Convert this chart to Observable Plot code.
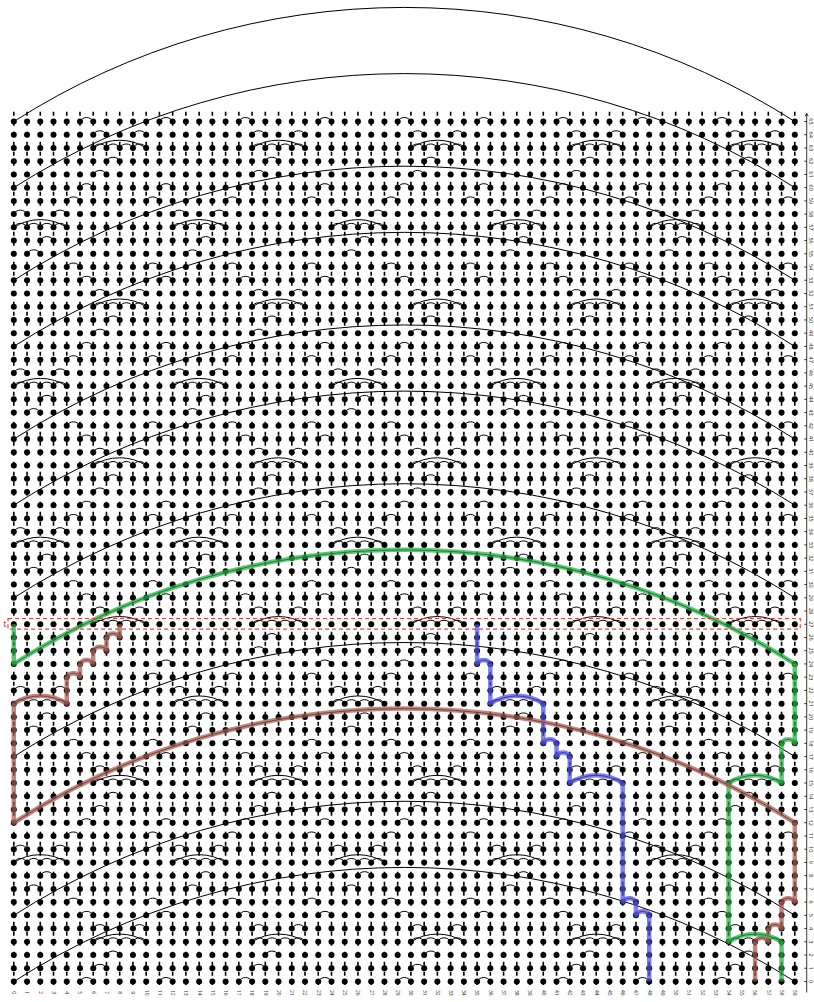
<!DOCTYPE html>
<html><head><meta charset="utf-8">
<script src="https://cdn.jsdelivr.net/npm/d3@7"></script>
<script src="https://cdn.jsdelivr.net/npm/@observablehq/plot@0.6"></script>
<style>body{margin:0;background:#fff;font-family:"DejaVu Sans",sans-serif}</style>
</head><body><div id="chart"></div>
<script>
// grid
const cols = d3.range(0, 60);
const rows = d3.range(0, 66);
// rows having the wrap-around arc (col 0 <-> col 59)
const wrapRows = [0, 5, 12, 17, 24, 29, 36, 41, 48, 53, 60, 65];
// repeating motif (period 12 columns) per row mod 12: start column of 1-step arcs
const smallMotif = [[5, 11], [6], [7], [6, 7, 8, 9], [6, 9], [5, 11], [4, 10], [1], [2], [0, 1, 2, 3], [0, 3], [4, 10]];
// start column of 4-step arcs per row mod 12
const bigMotif = [[], [], [], [6], [], [], [], [], [], [0], [], []];
const targetRow = 27;
// highlighted paths [col,row]
const greenPath = [[0,27],[0,24],[59,24],[59,18],[58,18],[58,15],[54,15],[54,3],[58,3],[58,0]];
const brownPath = [[8,27],[8,26],[7,26],[7,25],[6,25],[6,24],[5,24],[5,23],[4,23],[4,21],[0,21],[0,12],[59,12],[59,6],[58,6],[58,4],[57,4],[57,3],[56,3],[56,0]];
const bluePath = [[35,27],[35,24],[36,24],[36,21],[40,21],[40,18],[41,18],[41,17],[42,17],[42,15],[46,15],[46,6],[47,6],[47,5],[48,5],[48,0]];
const pathColors = {green: "#22b043", brown: "#a35a50", blue: "#4d4de8"};
const colLabels = cols.map(c => String(c));
const rowLabels = rows.map(r => String(r));

const nodes = [];
for (const r of rows) for (const c of cols) nodes.push({c, r});

const arcs = [];
for (const r of rows) {
  const m = r % 12;
  for (const s of smallMotif[m]) for (let c = s; c + 1 <= 59; c += 12) arcs.push({c1: c, c2: c + 1, r});
  for (const s of bigMotif[m]) for (let c = s; c + 4 <= 59; c += 12) arcs.push({c1: c, c2: c + 4, r});
}
for (const r of wrapRows) arcs.push({c1: 0, c2: 59, r});

function segs(path, name) {
  const v = [], a = [];
  for (let i = 1; i < path.length; i++) {
    const [c0, r0] = path[i - 1], [c1, r1] = path[i];
    if (c0 === c1) v.push({c: c0, ra: r0, rb: r1, name});
    else a.push({c1: Math.min(c0, c1), c2: Math.max(c0, c1), r: r0, name});
  }
  return {v, a};
}
const paths = [segs(greenPath, "green"), segs(brownPath, "brown"), segs(bluePath, "blue")];
const pv = paths.flatMap(p => p.v), pa = paths.flatMap(p => p.a);

const span = (d) => d.c2 - d.c1;
const arcMarks = (data, opts) => [
  Plot.arrow(data.filter(d => span(d) === 1), {x1: "c1", x2: "c2", y1: "r", y2: "r", bend: 62, headLength: 0, ...opts}),
  Plot.arrow(data.filter(d => span(d) > 1 && span(d) < 10), {x1: "c1", x2: "c2", y1: "r", y2: "r", bend: 33, headLength: 0, ...opts}),
  Plot.arrow(data.filter(d => span(d) >= 10), {x1: "c1", x2: "c2", y1: "r", y2: "r", bend: 32.6, headLength: 0, ...opts})
];

const chart = Plot.plot({
  width: 814, height: 1002,
  x: {domain: [0, 59], range: [13.3, 794.3], axis: null},
  y: {domain: [0, 65], range: [981, 121], axis: null},
  marks: [
    Plot.ruleX(cols, {x: d => d, y1: 65.7, y2: -0.3, stroke: "#000", strokeWidth: 1.6, strokeDasharray: "4,6"}),
    Plot.dot(nodes, {x: "c", y: "r", r: 3, fill: "#000", stroke: "none"}),
    ...arcMarks(arcs, {stroke: "#000", strokeWidth: 1}),
    Plot.link(pv, {x1: "c", x2: "c", y1: "ra", y2: "rb", stroke: d => pathColors[d.name], strokeWidth: 4.5, strokeOpacity: 0.72}),
    ...arcMarks(pa, {stroke: d => pathColors[d.name], strokeWidth: 4.5, strokeOpacity: 0.72}),
    Plot.rect([targetRow], {x1: -0.4, x2: 59.45, y1: d => d - 0.4, y2: d => d + 0.4, fill: "none", stroke: "#e8413a", strokeWidth: 1.2, strokeDasharray: "4,3"}),
    Plot.text(["t"], {x: -0.55, y: targetRow, text: d => d, fill: "#e8413a", fontSize: 9, textAnchor: "end"}),
    // right axis
    Plot.arrow([0], {x1: 59.9, x2: 59.9, y1: -0.8, y2: 65.6, headLength: 5, stroke: "#000", strokeWidth: 0.8}),
    Plot.link(rows, {x1: 59.72, x2: 59.9, y1: d => d, y2: d => d, stroke: "#000", strokeWidth: 0.8}),
    Plot.text(rows, {x: 60.22, y: d => d, text: d => rowLabels[d], rotate: 90, fontSize: 5.5, fill: "#333"}),
    Plot.text(cols, {x: d => d, y: -0.85, text: d => colLabels[d], rotate: 90, fontSize: 5, fill: "#333"})
  ]
});
document.getElementById("chart").appendChild(chart);
</script></body></html>
